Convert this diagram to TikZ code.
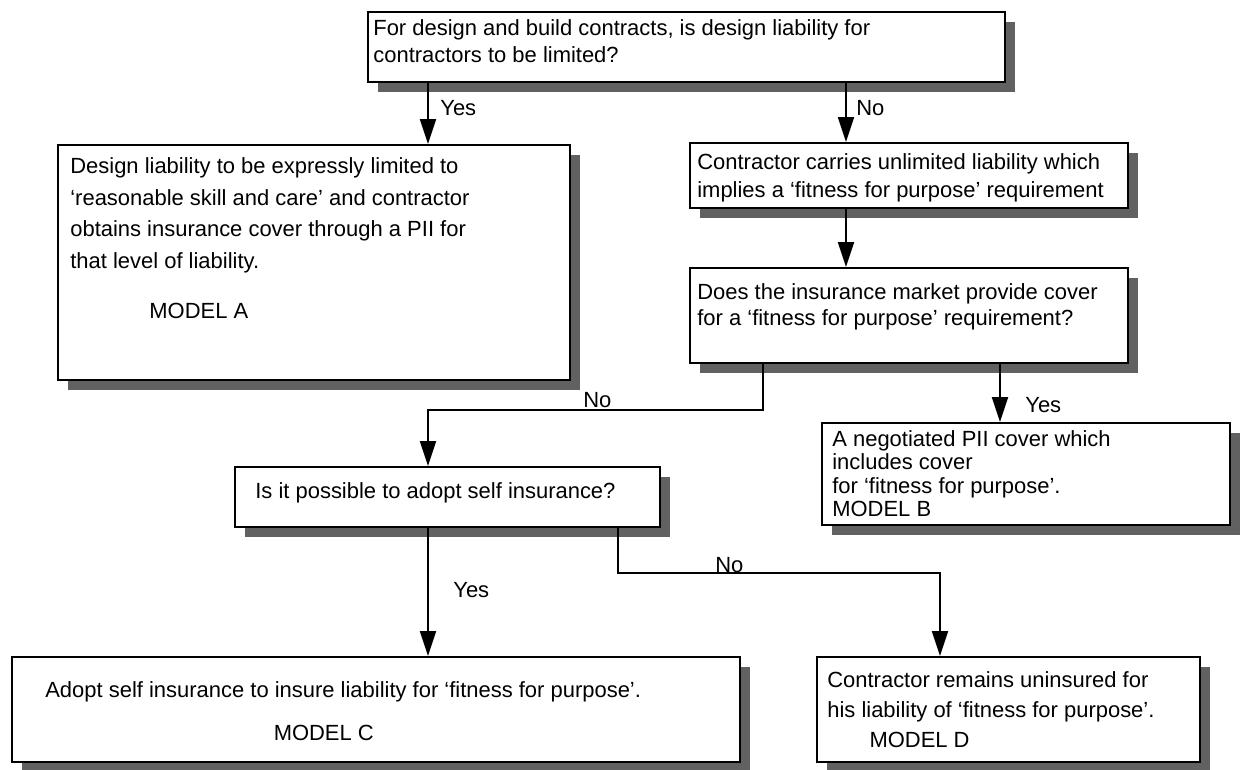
\documentclass[tikz,border=0pt]{standalone}
\usepackage{fontspec}
\setmainfont{Liberation Sans}
\usetikzlibrary{arrows.meta,shadows}

\begin{document}
\begin{tikzpicture}[
  x=0.02cm, y=-0.02cm,
  box/.style={draw, line width=1.1pt, fill=white, inner sep=0pt,
    drop shadow={shadow xshift=0.2cm, shadow yshift=-0.2cm, fill=black!62, opacity=1}},
  txt/.style={anchor=north west, align=left, inner sep=0pt},
  lbl/.style={anchor=west, inner sep=0pt, font=\fontsize{12.5}{15}\selectfont},
  arr/.style={line width=1.1pt, -{Triangle[length=0.5cm,width=0.32cm]}}
]
  \useasboundingbox (0,0) rectangle (1245,770);
  % boxes
  \node[box, minimum width=12.74cm, minimum height=1.4cm]  (T)  at (686.5,47) {};
  \node[box, minimum width=10.24cm, minimum height=4.7cm]  (A)  at (314,262.5) {};
  \node[box, minimum width=8.76cm,  minimum height=1.3cm]  (CC) at (909,175.5) {};
  \node[box, minimum width=8.76cm,  minimum height=1.9cm]  (DI) at (909,315.5) {};
  \node[box, minimum width=8.16cm,  minimum height=2.04cm] (B)  at (1026,474) {};
  \node[box, minimum width=8.5cm,   minimum height=1.2cm]  (IS) at (447.5,497) {};
  \node[box, minimum width=14.56cm, minimum height=2.1cm]  (C)  at (376,709.5) {};
  \node[box, minimum width=7.66cm,  minimum height=2.1cm]  (D)  at (1008.5,709.5) {};
  % texts
  \node[txt, font=\fontsize{12.5}{15.3}\selectfont] (tT) at (373,19)
    {For design and build contracts, is design liability for\\contractors to be limited?};
  \node[txt, font=\fontsize{12.5}{18.1}\selectfont] (tA) at (70,157)
    {Design liability to be expressly limited to\\
     `reasonable skill and care' and contractor\\
     obtains insurance cover through a PII for\\
     that level of liability.\\[10pt]
     \hspace*{45pt}MODEL A};
  \node[txt, font=\fontsize{12.5}{16}\selectfont] (tCC) at (697,153)
    {Contractor carries unlimited liability which\\implies a `fitness for purpose' requirement};
  \node[txt, font=\fontsize{12.5}{14.7}\selectfont] (tDI) at (697,283)
    {Does the insurance market provide cover\\for a `fitness for purpose' requirement?};
  \node[txt, font=\fontsize{12.5}{13.4}\selectfont] (tB) at (832,430)
    {A negotiated PII cover which\\includes cover\\for `fitness for purpose'.\\MODEL B};
  \node[lbl] (tIS) at (255,493) {Is it possible to adopt self insurance?};
  \node[txt, font=\fontsize{12.5}{24.4}\selectfont] (tC) at (45,681)
    {Adopt self insurance to insure liability for `fitness for purpose'.\\
     \hspace*{130pt}MODEL C};
  \node[txt, font=\fontsize{12.5}{17}\selectfont] (tD) at (827,671)
    {Contractor remains uninsured for\\his liability of `fitness for purpose'.\\
     \hspace*{24pt}MODEL D};
  % branch labels
  \node[lbl] (yes1) at (440,108) {Yes};
  \node[lbl] (no1)  at (856,108) {No};
  \node[lbl] (no2)  at (583,400) {No};
  \node[lbl] (yes2) at (1025,405) {Yes};
  \node[lbl] (yes3) at (453,590) {Yes};
  \node[lbl] (no3)  at (715,565) {No};
  % connectors
  \coordinate (ya) at (428,0);
  \coordinate (xn) at (846,0);
  \coordinate (xd) at (763,0);
  \coordinate (xb) at (1000,0);
  \coordinate (xs) at (618,0);
  \coordinate (bend1) at (428,410);
  \coordinate (bend2) at (940,573);
  \draw[arr] (T.south -| ya) -- (A.north -| ya);
  \draw[arr] (T.south -| xn) -- (CC.north -| xn);
  \draw[arr] (CC.south -| xn) -- (DI.north -| xn);
  \draw[arr] (DI.south -| xd) |- (bend1) -- (IS.north -| bend1);
  \draw[arr] (DI.south -| xb) -- (B.north -| xb);
  \draw[arr] (IS.south -| ya) -- (C.north -| ya);
  \draw[arr] (IS.south -| xs) |- (bend2) -- (D.north -| bend2);
\end{tikzpicture}
\end{document}
